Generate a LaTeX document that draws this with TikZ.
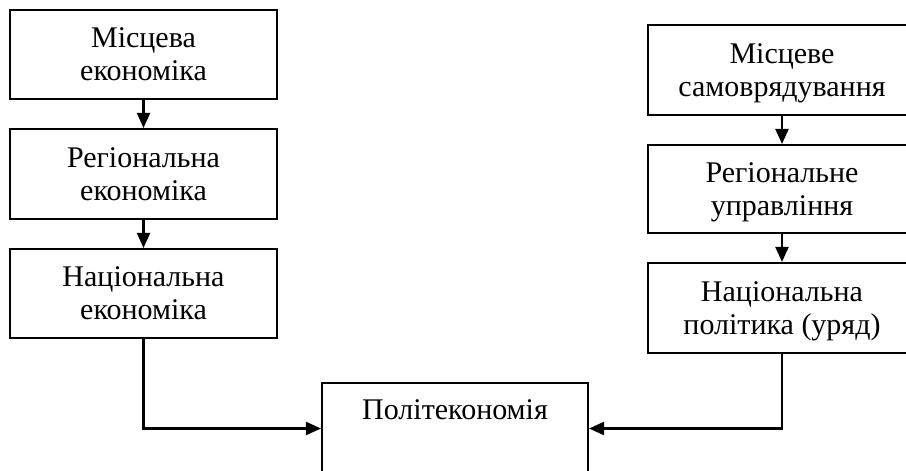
\documentclass[tikz,border=0pt]{standalone}
\usepackage{fontspec}
\setmainfont{Liberation Serif}
\usetikzlibrary{arrows.meta}
\begin{document}
\begin{tikzpicture}[x=1pt, y=-1pt,
  box/.style={draw, line width=2.1pt, rectangle, align=center, inner sep=0pt,
    font=\fontsize{30}{33}\selectfont, text height=52.8pt, text depth=0pt},
  lbox/.style={box, minimum width=267pt},
  rbox/.style={box, minimum width=268pt},
  arr/.style={draw, line width=2.1pt, -{Triangle[length=15pt, width=13pt]}}]
\useasboundingbox (0,0) rectangle (906,471);
\clip (0,0) rectangle (906,471);
% economy chain
\node[lbox, minimum height=89pt] (n1) at (143.5,54.5) {Місцева\\економіка};
\node[lbox, minimum height=90pt] (n2) at (143.5,174) {Регіональна\\економіка};
\node[lbox, minimum height=89pt] (n3) at (143.5,293.5) {Національна\\економіка};
% governance chain
\node[rbox, minimum height=90pt] (g1) at (782,70) {Місцеве\\самоврядування};
\node[rbox, minimum height=88pt] (g2) at (782,189) {Регіональне\\управління};
\node[rbox, minimum height=90pt] (g3) at (782,308) {Національна\\політика (уряд)};
% common target
\node[box, minimum width=266pt, minimum height=91pt, text height=19.8pt, text depth=37pt] (pol) at (455,428.5) {Політекономія};
% connectors
\draw[arr] (n1.south) -- (n2.north);
\draw[arr] (n2.south) -- (n3.north);
\draw[arr] (g1.south) -- (g2.north);
\draw[arr] (g2.south) -- (g3.north);
\draw[arr] (n3.south) |- (pol.west);
\draw[arr] (g3.south) |- (pol.east);
\end{tikzpicture}
\end{document}
